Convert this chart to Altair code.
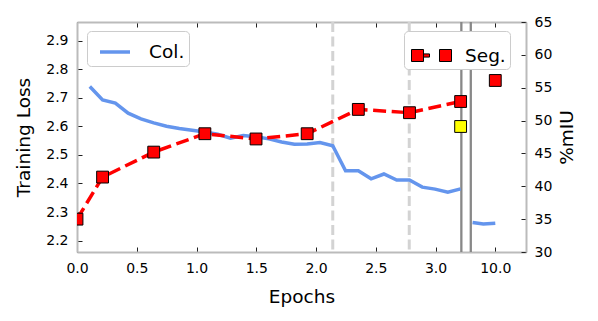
import altair as alt
import pandas as pd

FONT = "DejaVu Sans"

# ---- data (x positions on the broken axis: 3.5 stands for epoch 10.0) ----
col_x = [0.107, 0.214, 0.321, 0.428, 0.535, 0.642, 0.749, 0.856, 0.963, 1.070,
         1.177, 1.284, 1.391, 1.498, 1.605, 1.712, 1.819, 1.926, 2.033, 2.140,
         2.247, 2.354, 2.461, 2.568, 2.675, 2.782, 2.889, 2.996, 3.103, 3.210]
col_y = [2.739, 2.692, 2.681, 2.646, 2.626, 2.612, 2.600, 2.592, 2.586, 2.580,
         2.572, 2.558, 2.568, 2.563, 2.556, 2.545, 2.537, 2.538, 2.543, 2.532,
         2.444, 2.444, 2.416, 2.433, 2.412, 2.412, 2.387, 2.380, 2.369, 2.381]
col_x_after = [3.31, 3.40, 3.50]
col_y_after = [2.263, 2.258, 2.261]

seg_x = [0.0, 0.214, 0.642, 1.070, 1.498, 1.926, 2.354, 2.782, 3.210]
seg_y = [35.0, 41.4, 45.2, 48.0, 47.2, 48.0, 51.7, 51.2, 52.9]
seg_final_x = [3.5]
seg_final_y = [56.1]
yellow_x = [3.21]
yellow_y = [49.1]

dashed_x = [2.14, 2.78]
break_x = [3.216, 3.295]

x_ticks = [0.0, 0.5, 1.0, 1.5, 2.0, 2.5, 3.0, 3.5]
x_tick_labels = ["0.0", "0.5", "1.0", "1.5", "2.0", "2.5", "3.0", "10.0"]
loss_ticks = [2.2, 2.3, 2.4, 2.5, 2.6, 2.7, 2.8, 2.9]
miou_ticks = [30, 35, 40, 45, 50, 55, 60, 65]

# ---- tables ----
col_df = pd.DataFrame({
    "x": col_x + col_x_after,
    "y": col_y + col_y_after,
    "part": [0] * len(col_x) + [1] * len(col_x_after),
    "series": "Col.",
})
seg_df = pd.DataFrame({"x": seg_x, "y": seg_y})
seg_pts_df = pd.DataFrame({"x": seg_x + seg_final_x, "y": seg_y + seg_final_y, "series": "Seg."})
yellow_df = pd.DataFrame({"x": yellow_x, "y": yellow_y})
dash_df = pd.DataFrame({"x": dashed_x})
break_df = pd.DataFrame({"x": break_x})

xscale = alt.Scale(domain=[0, 3.757], nice=False, zero=False)
loss_scale = alt.Scale(domain=[2.16, 2.965], nice=False, zero=False)
miou_scale = alt.Scale(domain=[30, 65], nice=False, zero=False)

label_expr = "[" + ",".join(f"'{s}'" for s in x_tick_labels) + "][round(datum.value*2)]"
TICK_IN = alt.ExprRef(expr="-5")

common_axis = dict(domainColor="#bbbbbb", domainWidth=2, tickColor="#222222",
                   tickWidth=1, tickSize=TICK_IN, grid=False, labelFlush=False)

bottom_axis = alt.Axis(orient="bottom", values=x_ticks, labelExpr=label_expr,
                       title="Epochs", labelPadding=14, titlePadding=12, **common_axis)
top_axis = alt.Axis(orient="top", values=x_ticks, labels=False, title=None, **common_axis)
left_axis = alt.Axis(orient="left", values=loss_ticks, format=".1f", title="Training Loss",
                     labelPadding=14, titlePadding=12, **common_axis)
right_axis = alt.Axis(orient="right", values=miou_ticks, format="d", title="%mIU",
                      titleAngle=270, labelPadding=13, titlePadding=25, **common_axis)

dash_rules = alt.Chart(dash_df).mark_rule(color="#d3d3d3", strokeWidth=3, strokeDash=[10, 4.5]).encode(
    x=alt.X("x:Q", scale=xscale, axis=top_axis)
)
break_rules = alt.Chart(break_df).mark_rule(color="#888888", strokeWidth=2.3).encode(
    x=alt.X("x:Q", scale=xscale, axis=None)
)

blue = alt.Chart(col_df).mark_line(strokeWidth=3.5, clip=True).encode(
    x=alt.X("x:Q", scale=xscale, axis=bottom_axis),
    y=alt.Y("y:Q", scale=loss_scale, axis=left_axis),
    color=alt.Color("series:N", scale=alt.Scale(domain=["Col."], range=["#6495ED"]),
                    legend=alt.Legend(title=None, orient="none", legendX=10, legendY=9,
                                      symbolType="stroke", symbolSize=900, symbolStrokeWidth=3.5,
                                      symbolOffset=7, labelOffset=17, padding=4, fillColor="white",
                                      strokeColor="#cccccc", cornerRadius=4)),
    detail="part:N",
)

# legend glyph: two squares joined by a short dash
SEG_PATH = ("M-1,-0.3L-0.4,-0.3L-0.4,0.3L-1,0.3Z "
            "M-0.4,-0.08L-0.1,-0.08L-0.1,0.08L-0.4,0.08Z "
            "M0.4,-0.3L1,-0.3L1,0.3L0.4,0.3Z")

red_line = alt.Chart(seg_df).mark_line(color="red", strokeWidth=3.5, strokeDash=[13, 5.6], clip=True).encode(
    x=alt.X("x:Q", scale=xscale, axis=None),
    y=alt.Y("y:Q", scale=miou_scale, axis=right_axis),
)
red_pts = alt.Chart(seg_pts_df).mark_point(shape="square", filled=True, size=140, stroke="black",
                                           strokeWidth=1, opacity=1, clip=True).encode(
    x=alt.X("x:Q", scale=xscale, axis=None),
    y=alt.Y("y:Q", scale=miou_scale, axis=right_axis),
    fill=alt.Fill("series:N", scale=alt.Scale(domain=["Seg."], range=["red"]),
                  legend=alt.Legend(title=None, orient="none", legendX=327, legendY=9,
                                    symbolType=SEG_PATH, symbolSize=1600,
                                    symbolFillColor="red", symbolStrokeColor="black",
                                    symbolStrokeWidth=1, symbolOpacity=1, symbolOffset=3,
                                    labelOffset=13, padding=4, fillColor="white",
                                    strokeColor="#cccccc", cornerRadius=4)),
)
yellow_pt = alt.Chart(yellow_df).mark_point(shape="square", filled=True, size=140, stroke="black",
                                            strokeWidth=1, opacity=1, fill="yellow").encode(
    x=alt.X("x:Q", scale=xscale, axis=None),
    y=alt.Y("y:Q", scale=miou_scale, axis=right_axis),
)

seg_layer = alt.layer(red_line, red_pts, yellow_pt)

chart = alt.layer(dash_rules, break_rules, blue, seg_layer).resolve_scale(
    y="independent"
).resolve_axis(
    x="independent", y="independent"
).properties(
    width=449, height=230,
    autosize=alt.AutoSizeParams(type="none"),
    padding={"left": 69, "top": 14, "right": 64, "bottom": 55},
).configure_view(stroke=None).configure_axis(
    labelFont=FONT, titleFont=FONT, labelFontSize=14, titleFontSize=18.5,
    titleFontWeight="normal", labelColor="black", titleColor="black",
).configure_legend(
    labelFont=FONT, labelFontSize=18.5, labelColor="black",
)

chart.save("out.html", embed_options={"renderer": "svg", "actions": False})
